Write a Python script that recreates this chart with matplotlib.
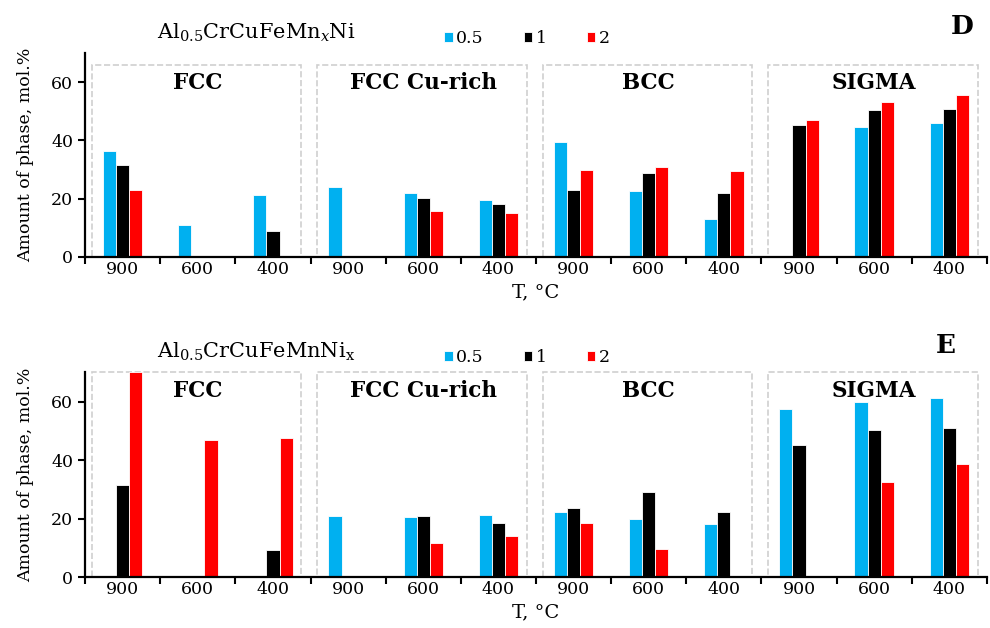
"""Al0.5CrCuFeMnxNi / Al0.5CrCuFeMnNix phase amounts: grouped bars, two panels."""

import matplotlib.pyplot as plt
import numpy as np
from matplotlib.patches import Rectangle

plt.rcParams["font.family"] = ["DejaVu Serif"]
plt.rcParams["mathtext.fontset"] = "dejavuserif"

phases = ["FCC", "FCC Cu-rich", "BCC", "SIGMA"]
temperatures = ["900", "600", "400"]
series_labels = ["0.5", "1", "2"]
series_colors = ["#00b0f0", "#000000", "#ff0000"]

# panel D: Mn_x, order = phase x temperature (900, 600, 400)
mn_05 = [36.3, 11.0, 21.4, 23.9, 21.8, 19.6, 39.4, 22.5, 13.0, 0.0, 44.5, 45.9]
mn_1 = [31.4, 0.0, 9.0, 0.0, 20.2, 18.2, 23.1, 28.9, 22.1, 45.2, 50.4, 50.9]
mn_2 = [23.1, 0.0, 0.0, 0.0, 15.7, 15.0, 30.0, 31.0, 29.5, 46.9, 53.3, 55.4]

# panel E: Ni_x
ni_05 = [0.0, 0.0, 0.0, 20.8, 20.4, 21.1, 22.3, 19.8, 18.0, 57.5, 60.0, 61.1]
ni_1 = [31.4, 0.0, 9.1, 0.0, 20.8, 18.4, 23.5, 28.9, 22.2, 45.2, 50.4, 50.9]
ni_2 = [70.0, 46.9, 47.6, 0.0, 11.6, 14.0, 18.4, 9.5, 0.0, 0.0, 32.4, 38.5]


def draw_panel(fig, rect, series, title, letter, letter_x, box_top):
    ax = fig.add_axes(rect)
    n = len(phases) * len(temperatures)
    x = np.arange(n)
    width = 0.175
    for i, (values, color, label) in enumerate(zip(series, series_colors, series_labels)):
        ax.bar(x + (i - 1) * width, values, width, color=color,
               edgecolor="white", linewidth=0.6, label=label, zorder=3)

    for g, phase in enumerate(phases):
        start = g * 3 - 0.41
        ax.add_patch(Rectangle((start, 0), 2.79, box_top, fill=False,
                               edgecolor="#cfcfcf", linestyle="--",
                               linewidth=1.2, clip_on=False, zorder=1))
        ax.text(g * 3 + 1, box_top - 6.5, phase, ha="center", va="center",
                fontsize=15.5, fontweight="bold")

    ax.set_xlim(-0.5, n - 0.5)
    ax.set_ylim(0, 70)
    ax.set_yticks([0, 20, 40, 60])
    ax.set_xticks(np.arange(-0.5, n, 1.0))
    ax.set_xticklabels([])
    ax.set_xticks(x, temperatures * len(phases), minor=True)
    ax.tick_params(axis="x", which="major", length=5, width=1.5, direction="out")
    ax.tick_params(axis="x", which="minor", length=0, labelsize=12.5, pad=3)
    ax.tick_params(axis="y", length=5, width=1.5, labelsize=12.5)
    for side in ("top", "right"):
        ax.spines[side].set_visible(False)
    for side in ("left", "bottom"):
        ax.spines[side].set_linewidth(1.6)
        ax.spines[side].set_zorder(4)
    ax.set_ylabel("Amount of phase, mol.%", fontsize=12.5, labelpad=12)
    ax.set_xlabel("T, °C", fontsize=14, labelpad=4)

    ax.text(0.19, 1.1, title, transform=ax.transAxes, ha="center",
            va="center", fontsize=15)
    ax.text(letter_x, 1.13, letter, transform=ax.transAxes, ha="right",
            va="center", fontsize=19, fontweight="bold")
    ax.legend(loc="center", bbox_to_anchor=(0.49, 1.07), ncol=3,
              frameon=False, fontsize=12.5, handlelength=0.5,
              handleheight=0.5, handletextpad=0.2, columnspacing=2.3)
    return ax


fig = plt.figure(figsize=(9.9, 6.28), dpi=100)
draw_panel(fig, [0.0859, 0.5908, 0.911, 0.325], [mn_05, mn_1, mn_2],
           r"Al$_{0.5}$CrCuFeMn$_x$Ni", "D", 0.985, 66)
draw_panel(fig, [0.0859, 0.0812, 0.911, 0.326], [ni_05, ni_1, ni_2],
           r"Al$_{0.5}$CrCuFeMnNi$_\mathrm{x}$", "E", 0.965, 70)
fig.savefig("out.png", dpi=100)
